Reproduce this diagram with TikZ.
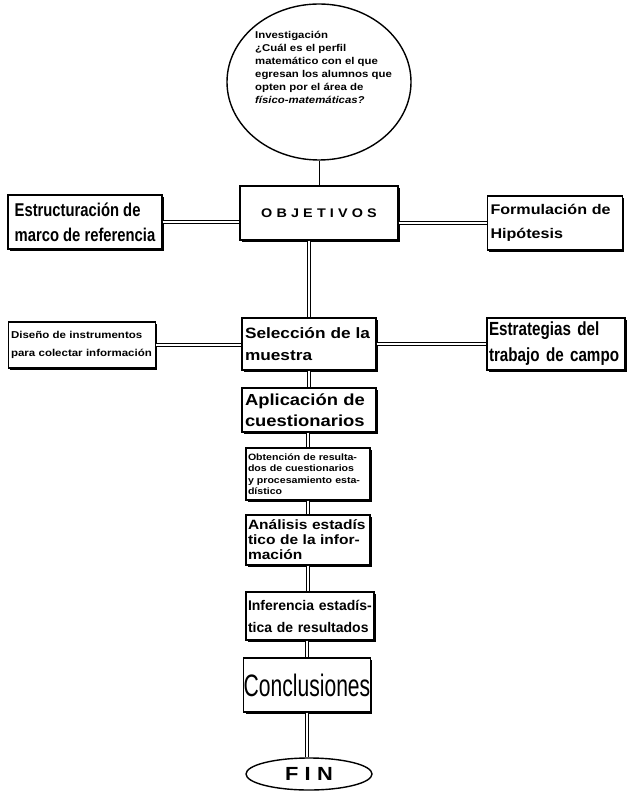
\documentclass[tikz,border=0pt]{standalone}
\usepackage{fontspec}
\setmainfont{Liberation Sans}
\newfontfamily\narrowfont[FakeStretch=0.8]{Liberation Sans}
\newfontfamily\condfont[FakeStretch=0.68]{Liberation Sans}
\newfontfamily\widefont[FakeStretch=1.15]{Liberation Sans}
\usetikzlibrary{shadows,shapes.geometric}
\begin{document}
\begin{tikzpicture}[x=1pt,y=-1pt,
  box/.style={draw=black, line width=1.2pt, fill=white, rectangle, inner sep=2pt,
     drop shadow={shadow xshift=1.8pt, shadow yshift=-1.8pt, fill=black, opacity=1}},
  dbl/.style={draw=black, line width=0.8pt, double=white, double distance=2pt},
  sgl/.style={draw=black, line width=1pt}]
\useasboundingbox (0,0) rectangle (627,791);
% nodes
\node[draw=black, line width=1.4pt, ellipse, minimum width=184pt, minimum height=156pt, inner sep=0pt] (inv) at (319,82) {};
\node[anchor=north west, align=left, font=\widefont\bfseries\fontsize{9.9}{13}\selectfont, inner sep=0pt] (invt) at (255,31)
  {Investigación\\¿Cuál es el perfil\\matemático con el que\\egresan los alumnos que\\opten por el área de\\\itshape físico-matemáticas?};
\node[box, minimum width=158pt, minimum height=54pt, font=\widefont\bfseries\fontsize{12.5}{14}\selectfont] (objetivos) at (319,213)
  {\raisebox{-5pt}{O\,\,B\,\,J\,\,E\,\,T\,\,I\,\,V\,\,O\,\,S}};
\node[box, minimum width=154pt, minimum height=54pt, align=left, font=\narrowfont\bfseries\fontsize{18.5}{25}\selectfont] (marco) at (85,222)
  {Estructuración de\\marco de referencia};
\node[box, minimum width=135pt, minimum height=54pt, align=left, font=\widefont\bfseries\fontsize{14}{24}\selectfont, text width=129pt] (form) at (555,223)
  {Formulación de\\Hipótesis};
\node[box, minimum width=134pt, minimum height=52pt, align=left, font=\widefont\bfseries\fontsize{15}{22}\selectfont, text width=128pt] (sel) at (309,344)
  {Selección de la\\muestra};
\node[box, minimum width=147pt, minimum height=46pt, align=left, font=\widefont\bfseries\fontsize{10}{18}\selectfont, text width=142pt] (dis) at (82,345)
  {Diseño de instrumentos\\para colectar información};
\node[box, minimum width=137pt, minimum height=52pt, align=left, font=\narrowfont\bfseries\fontsize{19}{26}\selectfont, text width=134pt] (estr) at (556,344)
  {Estrategias del\\trabajo de campo};
\node[box, minimum width=134pt, minimum height=44pt, align=left, font=\widefont\bfseries\fontsize{16}{21}\selectfont, text width=128pt] (apl) at (309,410)
  {Aplicación de\\cuestionarios};
\node[box, minimum width=124pt, minimum height=52pt, align=left, font=\widefont\bfseries\fontsize{9.2}{11.5}\selectfont, text width=120pt] (obt) at (308,474)
  {Obtención de resulta-\\dos de cuestionarios\\y procesamiento esta-\\dístico};
\node[box, minimum width=124pt, minimum height=50pt, align=left, font=\widefont\bfseries\fontsize{13.5}{15}\selectfont, text width=120pt] (ana) at (308,540)
  {Análisis estadís\\tico de la infor-\\mación};
\node[box, minimum width=128pt, minimum height=48pt, align=left, font=\bfseries\fontsize{14}{22}\selectfont, text width=124pt] (inf) at (310,616)
  {Inferencia estadís-\\tica de resultados};
\node[box, minimum width=122pt, minimum height=54pt, font=\condfont\fontsize{31}{32}\selectfont, inner sep=0pt] (con) at (307,685)
  {Conclusiones};
\node[draw=black, line width=1.4pt, ellipse, minimum width=126pt, minimum height=32pt, inner sep=0pt, font=\widefont\bfseries\fontsize{19}{20}\selectfont] (fin) at (309,774)
  {F\,\,I\,\,N};
% connectors
\draw[sgl] (inv.south) -- (inv.south |- objetivos.north);
\draw[dbl] (marco.east) -- (objetivos.west |- marco.east);
\draw[dbl] (objetivos.east |- form.west) -- (form.west);
\draw[dbl] (sel.north |- objetivos.south) -- (sel.north);
\draw[dbl] (dis.east) -- (sel.west |- dis.east);
\draw[dbl] (sel.east |- estr.west) -- (estr.west);
\draw[dbl] (sel.south) -- (sel.south |- apl.north);
\draw[dbl] (apl.south -| obt.north) -- (obt.north);
\draw[dbl] (obt.south) -- (ana.north);
\draw[dbl] (ana.south) -- (ana.south |- inf.north);
\draw[dbl] (inf.south -| con.north) -- (con.north);
\draw[dbl] (con.south) -- (con.south |- fin.north);
\end{tikzpicture}
\end{document}
